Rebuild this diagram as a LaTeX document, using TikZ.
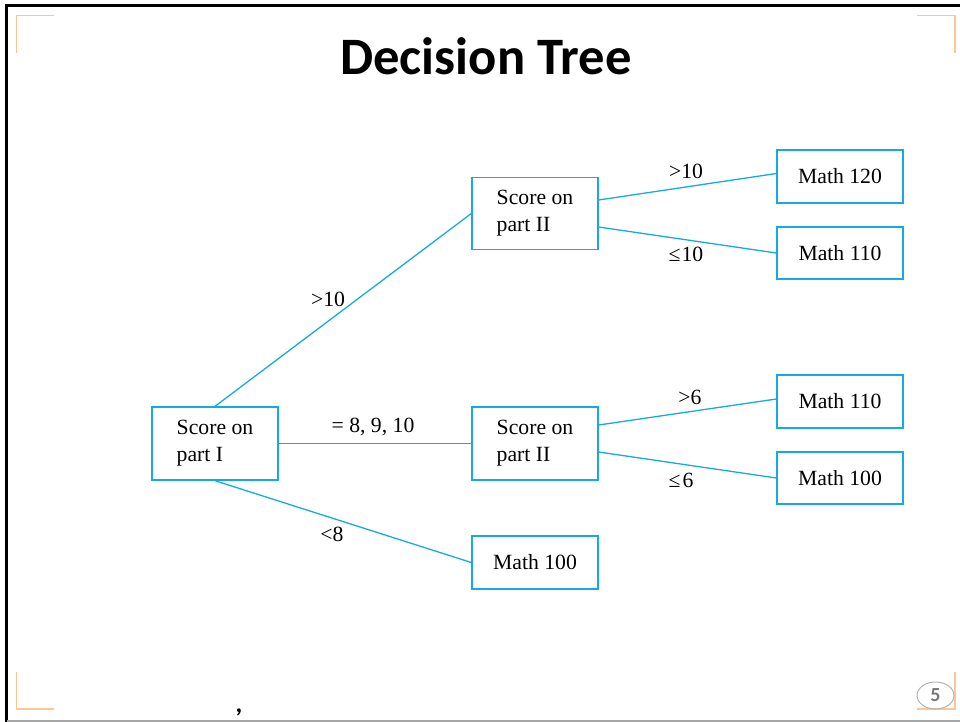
\documentclass[tikz,border=0pt]{standalone}
\usepackage{fontspec}
\setmainfont{Liberation Serif}
\newfontfamily\titlefont{Carlito}
\usetikzlibrary{shapes.geometric}
\definecolor{treeblue}{RGB}{20,170,230}
\definecolor{cornerorange}{RGB}{250,200,150}
\definecolor{pagegray}{RGB}{120,120,120}
\tikzset{
  treebox/.style={draw=treeblue, line width=1.4pt, minimum width=126pt, inner sep=0pt, align=left, font=\fontsize{21.7}{27}\selectfont},
  edge/.style={draw=treeblue, line width=1.3pt},
  lbl/.style={inner sep=0pt, font=\fontsize{21.7}{27}\selectfont},
  corner/.style={draw=cornerorange, line width=1.5pt}
}
\begin{document}
\begin{tikzpicture}[x=1pt, y=-1pt]
\useasboundingbox (0,0) rectangle (960,722);
% frame
\draw[black, line width=3pt] (6.5,722) -- (6.5,5.5) -- (960,5.5);
\draw[black!35, line width=2pt] (6.5,720.7) -- (960,720.7);
% corners
\draw[corner] (16.5,53) -- (16.5,15.5) -- (54,15.5);
\draw[corner] (917,15.5) -- (955,15.5) -- (955,53);
\draw[corner] (16.5,672) -- (16.5,709) -- (54,709);
\draw[corner] (917,709) -- (955,709) -- (955,672);
% title
\node[anchor=base, inner sep=0pt, font=\titlefont\bfseries\fontsize{52.6}{60}\selectfont] (title) at (486,75) {Decision Tree};
% boxes
\node[treebox, minimum height=73pt] (p1) at (215,443.5) {Score on\\part I};
\node[treebox, minimum height=72pt] (p2a) at (535,213.5) {Score on\\part II};
\node[treebox, minimum height=73pt] (p2b) at (535,443.5) {Score on\\part II};
\node[treebox, minimum height=53pt, align=center] (m100a) at (535,562.5) {Math 100};
\node[treebox, minimum height=53pt, align=center] (m120) at (840,176.5) {Math 120};
\node[treebox, minimum height=52pt, align=center] (m110a) at (840,253) {Math 110};
\node[treebox, minimum height=53pt, align=center] (m110b) at (840,401.5) {Math 110};
\node[treebox, minimum height=52pt, align=center] (m100b) at (840,478) {Math 100};
% edges
\draw[edge] (p1.north) -- (p2a.west);
\draw[edge] (p1.east) -- (p2b.west);
\draw[edge] (p1.south) -- (m100a.west);
\draw[edge] ([yshift=13.5pt]p2a.east) -- ([yshift=3pt]m120.west);
\draw[edge] ([yshift=-13.5pt]p2a.east) -- (m110a.west);
\draw[edge] ([yshift=18.5pt]p2b.east) -- ([yshift=2.5pt]m110b.west);
\draw[edge] ([yshift=-8.5pt]p2b.east) -- (m100b.west);
% labels
\node[lbl] (l1) at (328,299) {>10};
\node[lbl] (l2) at (373,427) {= 8, 9, 10};
\node[lbl] (l3) at (332,534) {<8};
\node[lbl] (l4) at (686,171) {>10};
\node[lbl] (l5) at (686,254) {≤\kern1pt10};
\node[lbl] (l6) at (690,397) {>6};
\node[lbl] (l7) at (681,480) {≤\kern2pt6};
% comma
\node[inner sep=0pt, font=\titlefont\bfseries\fontsize{26}{28}\selectfont] (comma) at (239,712) {,};
% page number
\node[ellipse, draw=black!30, line width=1pt, minimum width=37pt, minimum height=27pt, inner sep=0pt, text=pagegray, font=\titlefont\bfseries\fontsize{20}{22}\selectfont] (pg) at (935.5,695.5) {5};
\end{tikzpicture}
\end{document}
